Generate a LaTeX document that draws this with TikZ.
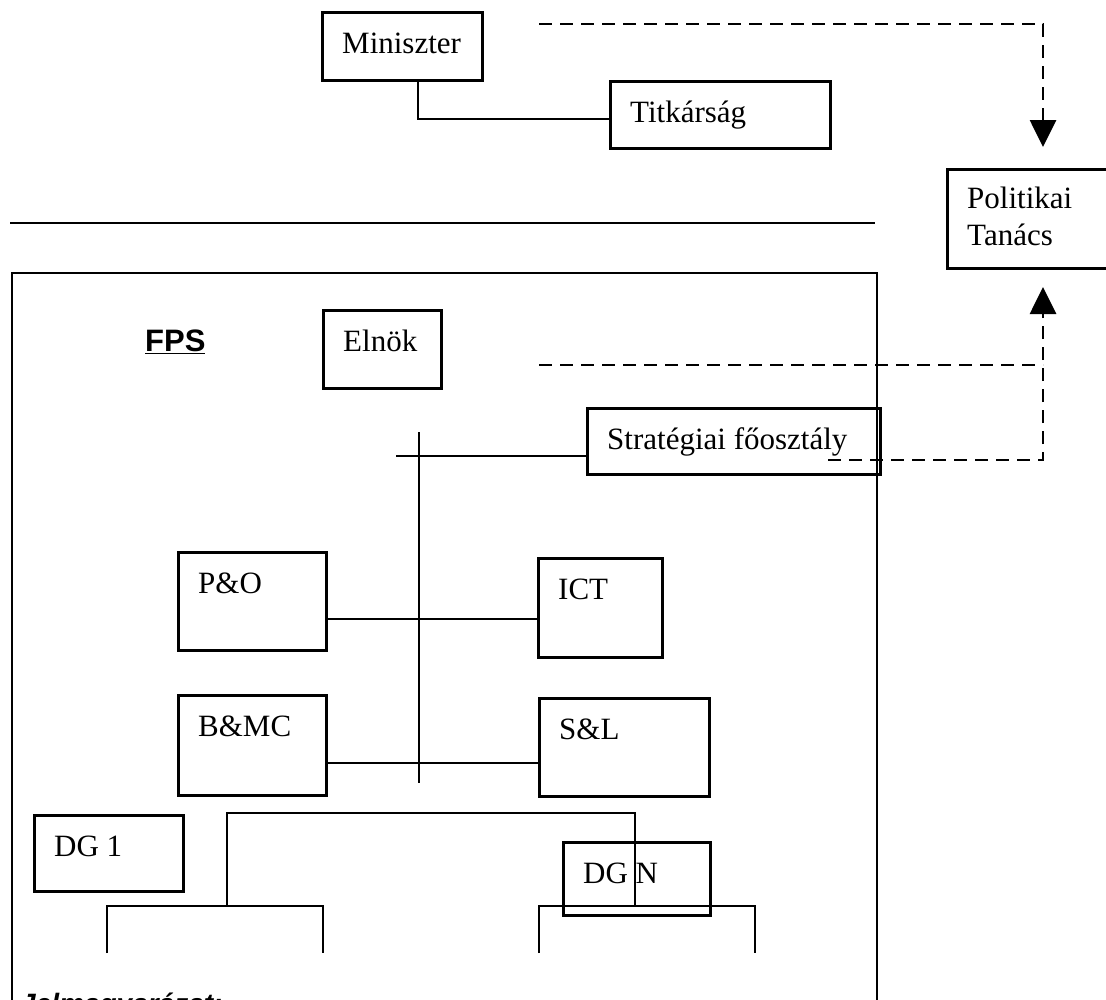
\documentclass[tikz,border=0pt]{standalone}
\usepackage{fontspec}
\setmainfont{Liberation Serif}
\newfontfamily\arialfont{Liberation Sans}
\usetikzlibrary{arrows.meta}
\newcommand\obox[6]{%
  \node[box, minimum width={#4-#2}, minimum height={#5-#3}] (#1) at (#2,#3) {};
  \node[lbl] (#1-t) at (#2+21,#3+42) {#6};
}
\begin{document}
\begin{tikzpicture}[x=1pt,y=-1pt,
  box/.style={draw, line width=2.6pt, inner sep=0pt, anchor=north west},
  lbl/.style={anchor=base west, inner sep=0pt, font=\fontsize{31}{37}\selectfont},
  conn/.style={line width=2pt},
  dsh/.style={line width=2.8pt, dash pattern=on 13pt off 8pt},
  tri/.style={-{Triangle[length=27pt,width=26pt]}}
]
\useasboundingbox (0,0) rectangle (1106,999);
\clip (0,0) rectangle (1106,999);

% top part
\obox{mini}{321}{11}{481}{79}{Miniszter}
\obox{tit}{609}{80}{829}{147}{Titkárság}
\node[box, minimum width=170, minimum height=99] (pol) at (946,168) {};
\node[anchor=north west, inner sep=0pt, align=left, font=\fontsize{31}{37}\selectfont] (pol-t) at (967,187) {Politikai\\Tanács};

\coordinate (mt) at (418,119);
\draw[conn] (mini.south -| mt) -- (mt) -- (mt -| tit.west);

\coordinate (dA) at (539,24);
\coordinate (pt1) at (1043,147);
\draw[dsh, tri] (dA) -- (dA -| pt1) -- (pt1);

% separator
\coordinate (s1) at (10,223);
\coordinate (s2) at (875,223);
\draw[conn] (s1) -- (s2);

% FPS frame
\node[draw, line width=2pt, inner sep=0pt, anchor=north west, minimum width=865, minimum height=760] (fps) at (11,272) {};
\node[anchor=base west, inner sep=0pt, font=\arialfont\bfseries\fontsize{31}{36}\selectfont] (fps-t) at (145,351) {\underline{FPS}};

\obox{eln}{322}{309}{440}{387}{Elnök}
\obox{strat}{586}{407}{879}{473}{Stratégiai főosztály}

\coordinate (dB) at (539,365);
\coordinate (pt2) at (1043,287);
\coordinate (dC) at (828,460);
\draw[dsh] (dB) -- (dB -| pt2);
\draw[dsh, tri] (dC) -- (dC -| pt2) -- (pt2);

% spine
\coordinate (sp1) at (419,432);
\coordinate (sp2) at (419,783);
\draw[conn] (sp1) -- (sp2);
\coordinate (st0) at (396,456);
\draw[conn] (st0) -- (st0 -| strat.west);

\obox{po}{177}{551}{325}{649}{P\&O}
\obox{ict}{537}{557}{661}{656}{ICT}
\obox{bmc}{177}{694}{325}{794}{B\&MC}
\obox{sl}{538}{697}{708}{795}{S\&L}

\coordinate (r1) at (419,619);
\draw[conn] (r1 -| po.east) -- (r1 -| ict.west);
\coordinate (r2) at (419,763);
\draw[conn] (r2 -| bmc.east) -- (r2 -| sl.west);

\obox{dg1}{33}{814}{182}{890}{DG 1}
\obox{dgn}{562}{841}{709}{914}{DG N}

% DG bracket
\coordinate (b1) at (227,906);
\coordinate (b2) at (227,813);
\coordinate (b3) at (635,813);
\coordinate (b4) at (635,906);
\draw[conn] (b1) -- (b2) -- (b3) -- (b4);

\coordinate (l1) at (107,953);
\coordinate (l2) at (107,906);
\coordinate (l3) at (323,906);
\coordinate (l4) at (323,953);
\draw[conn] (l1) -- (l2) -- (l3) -- (l4);

\coordinate (k1) at (539,953);
\coordinate (k2) at (539,906);
\coordinate (k3) at (755,906);
\coordinate (k4) at (755,953);
\draw[conn] (k1) -- (k2) -- (k3) -- (k4);

\node[anchor=base west, inner sep=0pt, font=\arialfont\bfseries\itshape\fontsize{28}{34}\selectfont] (jel) at (20,1013) {Jelmagyarázat:};
\end{tikzpicture}
\end{document}
